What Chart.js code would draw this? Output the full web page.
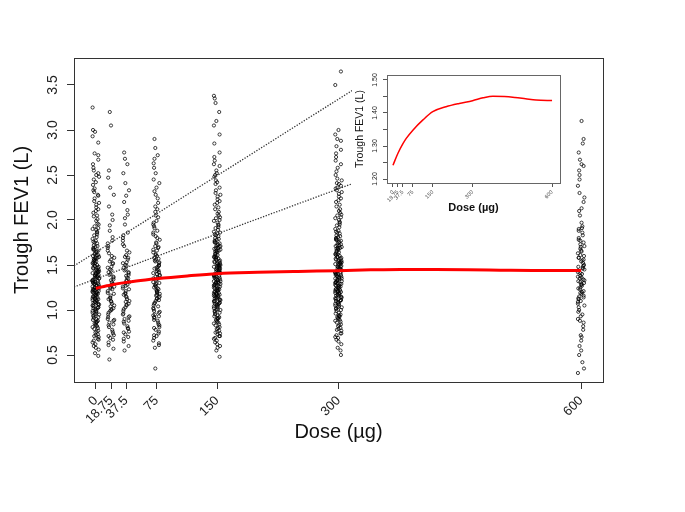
<!DOCTYPE html>
<html>
<head>
<meta charset="utf-8">
<script src="https://cdn.jsdelivr.net/npm/chart.js@4.4.1/dist/chart.umd.min.js"></script>
<style>
html, body { margin: 0; padding: 0; background: #fff; }
#wrap { position: relative; width: 685px; height: 512px; }
#main { position: absolute; left: 0; top: 0; }
#inset { position: absolute; left: 352px; top: 66px; background: #fff; }
</style>
</head>
<body>
<div id="wrap">
  <canvas id="main" width="685" height="512"></canvas>
  <canvas id="inset" width="218" height="152"></canvas>
</div>
<script>
// doses (µg) and tick labels
var doses = [0, 18.75, 37.5, 75, 150, 300, 600];
var doseLabels = ['0', '18.75', '37.5', '75', '150', '300', '600'];
// horizontal jitter of the points around each dose (µg)
var jitter = [-4, 1.5, -1, 3, -2.5, 4, 0, -3, 2.5, -1.5, 0.5, -3.5, 2, -0.5, 3.5, -2, 1, -4, 3, -1, 0.5, -3];

// trough FEV1 (L) per dose group
var fev0 = [1.32, 0.87, 1.55, 1.12, 2.04, 0.95, 1.41, 1.68, 0.73, 1.25, 1.89, 1.05, 1.37, 0.62, 1.48, 2.21, 1.18, 0.99, 1.61, 1.29,
  1.08, 1.76, 0.81, 1.44, 1.22, 2.12, 0.91, 1.35, 1.57, 1.02, 0.68, 1.93, 1.27, 1.15, 1.71, 0.84, 1.39, 2.31, 1.11, 1.52,
  0.77, 1.63, 1.19, 1.46, 0.97, 1.84, 1.31, 1.07, 2.45, 1.24, 0.58, 1.67, 1.42, 1.14, 1.99, 0.89, 1.36, 1.58, 1.21, 0.71,
  1.81, 1.33, 1.03, 1.49, 2.17, 0.93, 1.26, 1.74, 1.09, 1.43, 0.66, 1.59, 1.17, 2.08, 1.38, 0.85, 1.54, 1.23, 1.96, 1.01,
  1.45, 0.79, 1.65, 1.13, 2.27, 1.34, 0.96, 1.51, 1.2, 1.87, 0.52, 1.3, 1.72, 1.06, 1.4, 2.58, 0.88, 1.62, 1.16, 1.47,
  2.01, 0.75, 1.28, 1.56, 1.1, 1.79, 0.92, 1.36, 2.14, 1.19, 0.64, 1.5, 1.25, 1.91, 1.04, 1.43, 0.83, 1.69, 1.32, 2.35,
  0.98, 1.6, 1.14, 1.44, 0.7, 1.83, 1.27, 1.05, 2.67, 1.39, 0.9, 1.53, 1.21, 2.05, 1.12, 1.66, 0.6, 1.35, 1.77, 1.08,
  1.47, 2.24, 0.86, 1.3, 1.58, 1.0, 1.95, 1.23, 0.76, 1.41, 2.52, 1.17, 1.64, 0.94, 1.33, 1.86, 1.09, 0.49, 1.55, 1.26,
  2.1, 1.15, 0.8, 1.49, 1.37, 2.39, 1.02, 1.7, 0.67, 1.29, 1.61, 1.11, 2.86, 0.95, 1.45, 1.22, 1.9, 0.82, 1.38, 1.06,
  1.57, 2.19, 0.72, 1.31, 1.18, 1.75, 0.99, 2.62, 1.42, 1.13, 0.56, 1.67, 1.24, 2.93, 1.03, 1.52, 0.87, 1.34, 3.25, 1.2,
  2.98, 2.72, 2.55, 2.48, 2.42, 2.33, 2.28, 2.74, 2.5, 3.0];
var fev18 = [1.21, 0.78, 1.45, 1.02, 1.63, 0.89, 1.33, 1.12, 0.67, 1.54, 1.28, 0.95, 1.81, 1.16, 0.72, 1.39, 1.07, 1.69, 0.84, 1.25,
  1.48, 0.61, 1.19, 2.06, 0.99, 1.36, 0.81, 1.58, 1.1, 1.42, 0.74, 1.94, 1.27, 0.92, 1.51, 1.04, 2.28, 0.86, 1.31, 1.74,
  0.57, 1.14, 1.44, 0.97, 1.66, 1.23, 0.69, 1.37, 2.15, 1.05, 1.56, 0.83, 1.29, 1.88, 1.0, 2.47, 0.76, 1.4, 1.18, 0.45,
  1.6, 0.9, 1.34, 2.36, 1.09, 0.64, 1.47, 1.77, 1.13, 0.88, 2.55, 1.26, 3.05, 0.71, 1.52, 3.2, 1.01, 1.71, 2.0, 1.24];
var fev37 = [1.26, 0.82, 1.5, 1.07, 1.71, 0.93, 1.38, 1.17, 0.7, 1.59, 1.32, 0.99, 1.86, 1.21, 0.76, 1.44, 1.12, 1.77, 0.88, 1.3,
  1.53, 0.65, 1.24, 2.11, 1.03, 1.41, 0.85, 1.64, 1.15, 1.47, 0.79, 2.02, 1.33, 0.96, 1.56, 1.09, 2.33, 0.9, 1.36, 1.8,
  0.6, 1.19, 1.49, 1.01, 1.73, 1.28, 0.73, 1.42, 2.2, 1.1, 1.61, 0.87, 1.35, 1.95, 1.05, 2.52, 0.8, 1.45, 1.23, 0.55,
  1.66, 0.95, 1.39, 2.41, 1.14, 0.68, 1.52, 2.62, 1.18, 0.92, 2.75, 1.31, 2.27, 0.75, 1.58, 2.68, 1.06, 1.83, 2.06, 1.27];
var fev75 = [1.35, 0.88, 1.62, 1.14, 1.91, 0.98, 1.47, 1.25, 0.74, 1.71, 1.4, 1.05, 2.03, 1.29, 0.81, 1.55, 1.19, 1.86, 0.93, 1.37,
  1.66, 0.69, 1.31, 2.24, 1.1, 1.5, 0.91, 1.78, 1.22, 1.58, 0.84, 2.15, 1.43, 1.01, 1.69, 1.16, 2.41, 0.95, 1.45, 1.95,
  0.63, 1.27, 1.6, 1.07, 1.84, 1.36, 0.78, 1.52, 2.32, 1.18, 1.74, 0.92, 1.44, 2.09, 1.12, 2.63, 0.86, 1.56, 1.3, 0.58,
  1.8, 1.02, 1.49, 2.52, 1.21, 0.72, 1.64, 2.72, 1.26, 0.97, 2.9, 1.39, 2.36, 0.8, 1.7, 2.8, 1.13, 1.97, 2.19, 1.33,
  1.53, 1.08, 1.88, 0.66, 1.42, 2.05, 1.2, 0.89, 1.67, 1.24, 2.28, 0.76, 1.46, 1.15, 1.99, 0.99, 1.57, 0.35, 1.34, 2.45,
  1.04, 1.75, 0.83, 1.28, 2.12, 1.41, 0.61, 1.61, 1.17, 2.58, 0.94, 1.48, 1.82, 1.11, 2.68, 1.38, 0.71, 1.93, 1.23, 1.54];
var fev150 = [1.38, 0.91, 1.66, 1.17, 2.12, 1.0, 1.49, 1.76, 0.77, 1.31, 1.97, 1.09, 1.43, 0.66, 1.55, 2.3, 1.22, 1.04, 1.7, 1.34,
  1.13, 1.84, 0.85, 1.5, 1.27, 2.21, 0.96, 1.41, 1.64, 1.07, 0.71, 2.02, 1.33, 1.2, 1.79, 0.88, 1.46, 2.4, 1.16, 1.59,
  0.81, 1.71, 1.24, 1.53, 1.02, 1.92, 1.37, 1.12, 2.5, 1.29, 0.62, 1.75, 1.48, 1.19, 2.07, 0.93, 1.42, 1.65, 1.26, 0.75,
  1.89, 1.39, 1.08, 1.56, 2.26, 0.98, 1.32, 1.82, 1.14, 1.5, 0.69, 1.67, 1.23, 2.17, 1.45, 0.89, 1.61, 1.28, 2.05, 1.06,
  1.52, 0.83, 1.73, 1.18, 2.36, 1.4, 1.01, 1.58, 1.25, 1.95, 0.55, 1.36, 1.8, 1.11, 1.47, 2.66, 0.92, 1.69, 1.21, 1.54,
  2.09, 0.79, 1.34, 1.63, 1.15, 1.87, 0.97, 1.43, 2.23, 1.24, 0.68, 1.57, 1.3, 2.0, 1.1, 1.5, 0.87, 1.77, 1.38, 2.44,
  1.03, 1.68, 1.19, 1.51, 0.74, 1.91, 1.33, 1.1, 2.75, 1.45, 0.94, 1.6, 1.27, 2.14, 1.17, 1.74, 0.64, 1.41, 1.85, 1.13,
  1.54, 2.33, 0.9, 1.36, 1.66, 1.05, 2.03, 1.29, 0.8, 1.48, 2.6, 1.22, 1.72, 0.99, 1.39, 1.94, 1.14, 0.48, 1.62, 1.32,
  2.19, 1.2, 0.84, 1.56, 1.44, 2.48, 1.07, 1.78, 0.71, 1.35, 1.69, 1.16, 2.95, 1.0, 1.52, 1.28, 1.99, 0.86, 1.45, 1.11,
  1.65, 2.28, 0.76, 1.37, 1.23, 1.83, 1.04, 2.7, 1.49, 1.18, 0.6, 1.75, 1.31, 3.05, 1.08, 1.59, 0.91, 1.4, 3.38, 1.26,
  2.55, 1.44, 0.95, 1.71, 2.42, 1.15, 3.2, 1.58, 0.73, 2.85, 1.3, 2.52, 1.86, 3.3, 1.06, 2.62, 1.47, 3.1, 0.58, 3.35];
var fev300 = [1.41, 0.93, 1.69, 1.2, 2.15, 1.03, 1.52, 1.79, 0.8, 1.34, 2.0, 1.12, 1.46, 0.69, 1.58, 2.33, 1.25, 1.07, 1.73, 1.37,
  1.16, 1.87, 0.88, 1.53, 1.3, 2.24, 0.99, 1.44, 1.67, 1.1, 0.74, 2.05, 1.36, 1.23, 1.82, 0.91, 1.49, 2.41, 1.19, 1.62,
  0.84, 1.74, 1.27, 1.56, 1.05, 1.95, 1.4, 1.15, 2.54, 1.32, 0.65, 1.78, 1.51, 1.22, 2.1, 0.96, 1.45, 1.68, 1.29, 0.78,
  1.92, 1.42, 1.11, 1.59, 2.29, 1.01, 1.35, 1.85, 1.17, 1.53, 0.72, 1.7, 1.26, 2.2, 1.48, 0.92, 1.64, 1.31, 2.08, 1.09,
  1.55, 0.86, 1.76, 1.21, 2.38, 1.43, 1.04, 1.61, 1.28, 1.98, 0.58, 1.39, 1.83, 1.14, 1.5, 2.7, 0.95, 1.72, 1.24, 1.57,
  2.12, 0.82, 1.37, 1.66, 1.18, 1.9, 1.0, 1.46, 2.26, 1.27, 0.7, 1.6, 1.33, 2.03, 1.13, 1.53, 0.9, 1.8, 1.41, 2.46,
  1.06, 1.71, 1.22, 1.54, 0.77, 1.94, 1.36, 1.13, 2.78, 1.48, 0.97, 1.63, 1.3, 2.17, 1.2, 1.77, 0.67, 1.44, 1.88, 1.16,
  1.57, 2.36, 0.93, 1.39, 1.69, 1.08, 2.06, 1.32, 0.83, 1.51, 2.62, 1.25, 1.75, 1.02, 1.42, 1.97, 1.17, 0.5, 1.65, 1.35,
  2.22, 1.23, 0.87, 1.59, 1.47, 2.5, 1.1, 1.81, 0.74, 1.38, 1.72, 1.19, 2.88, 1.03, 1.55, 1.31, 2.02, 0.89, 1.48, 1.14,
  1.68, 2.31, 0.79, 1.4, 1.26, 1.86, 1.07, 2.66, 1.52, 1.21, 0.62, 1.78, 1.34, 2.95, 1.11, 1.62, 0.94, 1.43, 3.5, 1.29,
  2.58, 3.65, 2.82, 2.44, 3.0, 2.74, 0.55, 2.9, 2.4, 2.35];
var fev600 = [1.42, 0.95, 1.68, 1.21, 2.1, 1.05, 1.54, 1.8, 0.82, 1.35, 1.97, 1.13, 1.47, 0.72, 1.6, 2.3, 1.27, 1.09, 1.75, 1.38,
  1.18, 1.88, 0.9, 1.55, 1.31, 2.2, 1.0, 1.45, 1.66, 1.12, 0.78, 2.05, 1.36, 1.24, 1.83, 0.93, 1.5, 2.45, 1.2, 1.63,
  0.86, 1.73, 1.29, 1.58, 1.07, 1.93, 1.41, 1.16, 2.55, 1.33, 0.66, 1.78, 1.52, 1.23, 2.13, 0.98, 1.46, 1.7, 1.3, 0.6,
  1.91, 1.44, 1.14, 1.61, 2.62, 1.03, 1.37, 1.86, 1.19, 1.56, 0.5, 1.71, 1.28, 2.75, 1.49, 0.88, 1.65, 1.32, 2.85, 1.1,
  0.35, 2.5, 1.4, 0.3, 2.9, 1.25, 3.1, 1.58, 2.38, 0.42, 1.77, 2.6, 1.15, 2.25, 0.55, 1.9, 1.34, 2.67, 0.7, 1.48];
var groups = [fev0, fev18, fev37, fev75, fev150, fev300, fev600];

// fitted dose-response curve
var curveDose = [0, 18.75, 37.5, 50, 75, 113, 150, 200, 250, 300, 340, 377, 420, 460, 500, 540, 600];
var curveFev = [1.242, 1.278, 1.307, 1.323, 1.348, 1.379, 1.404, 1.419, 1.429, 1.437, 1.446, 1.451, 1.450, 1.447, 1.443, 1.439, 1.438];

// dotted lines
var upperX = [-27, 333];
var upperY = [1.49, 3.53];
var lowerX = [-27, 335];
var lowerY = [1.256, 2.463];

// y tick values and labels
var yTicks = [0.5, 1, 1.5, 2, 2.5, 3, 3.5];
var yTickLabels = ['0.5', '1.0', '1.5', '2.0', '2.5', '3.0', '3.5'];
var insetYTicks = [1.2, 1.25, 1.3, 1.35, 1.4, 1.45, 1.5];
var insetYLabels = ['1.20', '', '1.30', '', '1.40', '', '1.50'];

var fontFam = '"Liberation Sans", Arial, sans-serif';
Chart.defaults.font.family = fontFam;
Chart.defaults.color = '#222';

function pts(xs, ys) {
    return xs.map(function (x, i) { return { x: x, y: ys[i] }; });
}

// rotated y tick labels + box around the plot area
function frame(values, labels, x, size, boxColor) {
    return {
        id: 'frame',
        afterDraw: function (chart) {
            var ctx = chart.ctx, s = chart.scales.y, a = chart.chartArea;
            ctx.save();
            ctx.fillStyle = '#222';
            ctx.font = size + 'px ' + fontFam;
            ctx.textAlign = 'center';
            ctx.textBaseline = 'middle';
            values.forEach(function (v, i) {
                if (!labels[i]) return;
                ctx.save();
                ctx.translate(x, s.getPixelForValue(v));
                ctx.rotate(-Math.PI / 2);
                ctx.fillText(labels[i], 0, 0);
                ctx.restore();
            });
            ctx.strokeStyle = boxColor;
            ctx.lineWidth = 1;
            ctx.strokeRect(Math.round(a.left) + 0.5, Math.round(a.top) + 0.5,
                Math.round(a.right - a.left), Math.round(a.bottom - a.top));
            ctx.restore();
        }
    };
}

var scatterSets = groups.map(function (g, k) {
    return {
        type: 'scatter',
        data: g.map(function (y, i) { return { x: doses[k] + jitter[i % jitter.length], y: y }; }),
        pointRadius: 1.6,
        borderWidth: 0.75,
        borderColor: '#000',
        backgroundColor: 'rgba(0,0,0,0)'
    };
});

const mainChart = new Chart(document.getElementById('main'), {
    type: 'scatter',
    data: {
        datasets: [{
            type: 'line',
            data: pts(curveDose, curveFev),
            borderColor: '#ff0000',
            borderWidth: 3,
            pointRadius: 0,
            cubicInterpolationMode: 'monotone'
        }, {
            type: 'line',
            data: pts(upperX, upperY),
            borderColor: '#333',
            borderWidth: 1.3,
            borderDash: [1.3, 1.5],
            pointRadius: 0
        }, {
            type: 'line',
            data: pts(lowerX, lowerY),
            borderColor: '#333',
            borderWidth: 1.3,
            borderDash: [1.3, 1.5],
            pointRadius: 0
        }].concat(scatterSets)
    },
    options: {
        responsive: false,
        animation: false,
        devicePixelRatio: 1,
        events: [],
        layout: { padding: { top: 58, right: 82, left: 6, bottom: 64 } },
        plugins: { legend: { display: false }, tooltip: { enabled: false } },
        scales: {
            x: {
                type: 'linear',
                min: -27,
                max: 627,
                afterBuildTicks: function (s) { s.ticks = doses.map(function (v) { return { value: v }; }); },
                afterFit: function (s) { s.height = 66; },
                ticks: {
                    autoSkip: false,
                    minRotation: 45,
                    maxRotation: 45,
                    padding: 4,
                    font: { size: 13 },
                    callback: function (v) { return doseLabels[doses.indexOf(v)]; }
                },
                grid: { drawOnChartArea: false, tickLength: 7, color: '#333' },
                border: { display: false },
                title: { display: true, text: 'Dose (µg)', font: { size: 20 }, color: '#111' }
            },
            y: {
                min: 0.2,
                max: 3.8,
                afterBuildTicks: function (s) { s.ticks = yTicks.map(function (v) { return { value: v }; }); },
                afterFit: function (s) { s.width = 68; },
                ticks: { display: false },
                grid: { drawOnChartArea: false, tickLength: 7, color: '#333' },
                border: { display: false },
                title: { display: true, text: 'Trough FEV1 (L)', font: { size: 20 }, color: '#111' }
            }
        }
    },
    plugins: [frame(yTicks, yTickLabels, 53.5, 14, '#333')]
});

const insetChart = new Chart(document.getElementById('inset'), {
    type: 'scatter',
    data: {
        datasets: [{
            type: 'line',
            data: pts(curveDose, curveFev),
            borderColor: '#ff0000',
            borderWidth: 1.5,
            pointRadius: 0,
            cubicInterpolationMode: 'monotone'
        }]
    },
    options: {
        responsive: false,
        animation: false,
        devicePixelRatio: 1,
        events: [],
        layout: { padding: { top: 9, right: 10, left: 0, bottom: 1 } },
        plugins: { legend: { display: false }, tooltip: { enabled: false } },
        scales: {
            x: {
                type: 'linear',
                min: -22.6,
                max: 630,
                afterBuildTicks: function (s) { s.ticks = doses.map(function (v) { return { value: v }; }); },
                afterFit: function (s) { s.height = 34; },
                ticks: {
                    autoSkip: false,
                    minRotation: 45,
                    maxRotation: 45,
                    padding: 2,
                    font: { size: 5.5 },
                    color: '#444',
                    callback: function (v) { return doseLabels[doses.indexOf(v)]; }
                },
                grid: { drawOnChartArea: false, tickLength: 4, color: '#555' },
                border: { display: false },
                title: { display: true, text: 'Dose (µg)', font: { size: 11, weight: 'bold' }, color: '#111', padding: { top: 2, bottom: 2 } }
            },
            y: {
                min: 1.188,
                max: 1.515,
                afterBuildTicks: function (s) { s.ticks = insetYTicks.map(function (v) { return { value: v }; }); },
                afterFit: function (s) { s.width = 35; },
                ticks: { display: false },
                grid: { drawOnChartArea: false, tickLength: 4, color: '#555' },
                border: { display: false },
                title: { display: true, text: 'Trough FEV1 (L)', font: { size: 10.5 }, color: '#111', padding: { top: 2, bottom: 2 } }
            }
        }
    },
    plugins: [frame(insetYTicks, insetYLabels, 23, 7, '#666')]
});
</script>
</body>
</html>
